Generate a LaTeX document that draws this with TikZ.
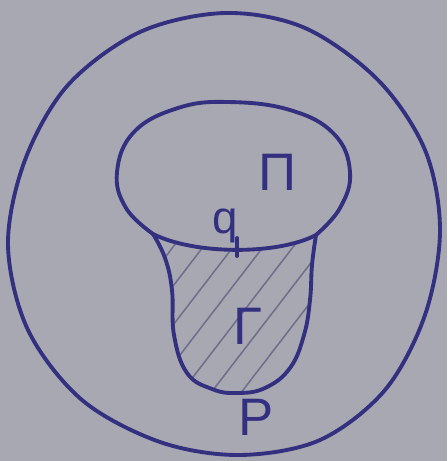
\documentclass[tikz,border=0pt]{standalone}
\usepackage{fontspec}
\setmainfont{Liberation Sans}
\definecolor{bgc}{RGB}{168,168,178}
\definecolor{inkc}{RGB}{52,48,128}
\definecolor{hatchc}{RGB}{112,112,140}
\begin{document}
\begin{tikzpicture}[x=0.01cm,y=-0.01cm,
  ink/.style={draw=inkc,line width=1.1pt,line cap=round,line join=round},
  hatchline/.style={draw=hatchc,line width=0.45pt},
  lab/.style={text=inkc,inner sep=0pt,font=\fontsize{15}{17}\selectfont},
  smalllab/.style={text=inkc,inner sep=0pt,font=\fontsize{13}{15}\selectfont}]
\fill[bgc] (0,0) rectangle (447,461);
\useasboundingbox (0,0) rectangle (447,461);
% outer circle
\draw[ink] plot[smooth cycle, tension=0.55] coordinates {(225,13) (305,28) (378,80) (425,150) (440,230) (425,315) (385,390) (320,440) (240,455) (160,442) (82,400) (28,330) (8,245) (25,160) (68,85) (140,32)};
% vertices of chord
\coordinate (L) at (153,234);
\coordinate (R) at (316,235);
% hatching of Gamma region
\begin{scope}
\clip plot[smooth, tension=0.7] coordinates {(153,234) (165,258) (172,290) (174,335) (187,373) (212,389) (237,393) (265,388) (290,368) (304,335) (310,300) (312,265) (316,235)}
  .. controls (278,255) and (195,255) .. (153,234);
\foreach \k in {-20,10,...,340}
  \draw[hatchline] (\k,420) -- ++(160,-208);
\end{scope}
% upper blob Pi
\draw[ink] plot[smooth, tension=0.7] coordinates {(153,234) (126,208) (117,172) (134,132) (178,108) (228,102) (290,110) (334,134) (350,172) (340,208) (316,235)};
% lower region Gamma
\draw[ink] plot[smooth, tension=0.7] coordinates {(153,234) (165,258) (172,290) (174,335) (187,373) (212,389) (237,393) (265,388) (290,368) (304,335) (310,300) (312,265) (316,235)};
% chord q
\draw[ink] (L) .. controls (195,255) and (278,255) .. (R);
\node[smalllab,anchor=base east] (q) at (238.5,233) {q};
\coordinate (qt) at (237,256);
\coordinate (qs) at (237,238);
\draw[ink] (qs) -- (qt);
% labels
\node[lab] (Pi) at (278,172) {Π};
\node[lab] (Gamma) at (248,326) {Γ};
\node[lab] (P) at (256,417) {P};
\end{tikzpicture}
\end{document}
